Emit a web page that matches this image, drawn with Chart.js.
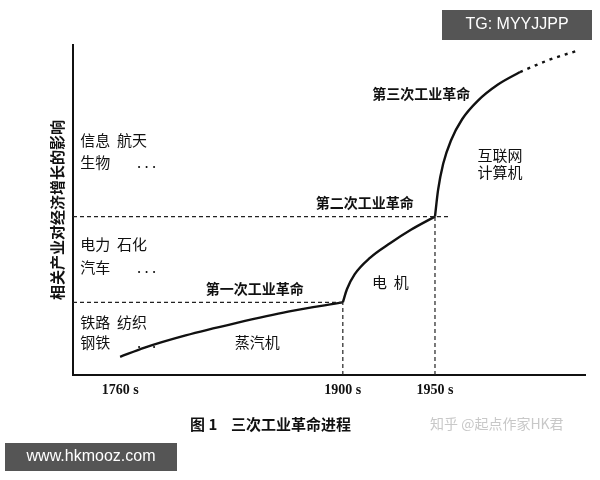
<!DOCTYPE html>
<html><head><meta charset="utf-8">
<script src="https://cdn.jsdelivr.net/npm/chart.js@4/dist/chart.umd.min.js"></script>
<style>html,body{margin:0;background:#fff}#wrap{width:600px;height:480px}</style>
</head><body><div id="wrap"><canvas id="c"></canvas></div>
<script>
// 阶段曲线（横轴为示意位置，纵轴为影响程度）
const phase1 = [[9.2,5.5],[14,8.3],[22,12],[32,15.8],[42,19.2],[52.7,22]];
const phase2 = [[52.7,22],[53.5,26],[55,30.5],[58,35.5],[62,40],[66,44],[70.7,48]];
const phase3 = [[70.7,48],[71.3,56],[72.3,64],[73.8,71],[76,77.5],[79,83],[83,88],[87.3,91.8]];
const future = [[87.3,91.8],[93,95.5],[99,98.5]];
const xTicks = [[9.2,'1760 s'],[52.7,'1900 s'],[70.7,'1950 s']];
const revLabels = [[35.5,24,'第一次工业革命'],[57,50,'第二次工业革命'],[68,83,'第三次工业革命']];
const sideText = [[1.4,16,'铁路  纺织'],[1.4,10,'钢铁'],[1.4,39.5,'电力  石化'],[1.4,32.5,'汽车'],[1.4,71,'信息  航天'],[1.4,64.5,'生物']];
const dots = [[12.5,10],[12.5,32.5],[12.5,64.5]];
const midText = [[36,10,'蒸汽机'],[62,28,'电  机'],[83.4,66.7,'互联网'],[83.4,61.5,'计算机']];

const pts = a => a.map(([x,y]) => ({x,y}));
const dash = (a,b) => ({data:pts([a,b]),borderColor:'#222',borderWidth:1.2,borderDash:[4,3],pointRadius:0});
const solid = d => ({data:pts(d),borderColor:'#111',borderWidth:2.4,pointRadius:0,cubicInterpolationMode:'monotone'});

const textPlugin = {
  id:'text',
  afterDraw(chart){
    const {ctx, scales:{x,y}} = chart;
    ctx.save();
    ctx.fillStyle = '#111';
    ctx.textAlign = 'center'; ctx.textBaseline = 'top';
    ctx.font = 'bold 14px "Liberation Serif", serif';
    xTicks.forEach(([v,t]) => ctx.fillText(t, x.getPixelForValue(v), y.bottom+8));
    ctx.textBaseline = 'bottom';
    ctx.font = 'bold 14px "Noto Sans CJK SC"';
    revLabels.forEach(([a,b,t]) => ctx.fillText(t, x.getPixelForValue(a), y.getPixelForValue(b)));
    ctx.textAlign = 'left'; ctx.textBaseline = 'middle';
    ctx.font = '15px "Noto Sans CJK SC"';
    sideText.forEach(([a,b,t]) => ctx.fillText(t, x.getPixelForValue(a), y.getPixelForValue(b)));
    dots.forEach(([a,b]) => ctx.fillText('. . .', x.getPixelForValue(a), y.getPixelForValue(b)));
    ctx.textAlign = 'center';
    midText.forEach(([a,b,t]) => ctx.fillText(t, x.getPixelForValue(a), y.getPixelForValue(b)));
    // 纵轴标题
    ctx.save();
    ctx.translate(57, (y.top+y.bottom)/2);
    ctx.rotate(-Math.PI/2);
    ctx.font = 'bold 15px "Noto Sans CJK SC"';
    ctx.fillText('相关产业对经济增长的影响', 0, 0);
    ctx.restore();
    ctx.font = 'bold 15px "Noto Sans CJK SC"';
    ctx.textAlign = 'left';
    ctx.fillText('图 1    三次工业革命进程', 190, 424);
    ctx.fillStyle = '#c8c8c8'; ctx.font = '14px "Noto Sans CJK SC"';
    ctx.fillText('知乎 @起点作家HK君', 430, 424);
    // 水印框
    ctx.fillStyle = '#555'; ctx.fillRect(442,10,150,30);
    ctx.fillRect(5,443,172,28);
    ctx.fillStyle = '#fff'; ctx.font = '16px "Liberation Sans"';
    ctx.textAlign = 'center';
    ctx.fillText('TG: MYYJJPP', 517, 25);
    ctx.fillText('www.hkmooz.com', 91, 457);
    ctx.restore();
  }
};

new Chart(document.getElementById('c'), {
  type:'line',
  data:{datasets:[
    dash([0,22],[52.7,22]), dash([52.7,0],[52.7,22]),
    dash([0,48],[73.6,48]), dash([70.7,0],[70.7,48]),
    solid(phase1), solid(phase2), solid(phase3),
    {data:pts(future),borderColor:'#111',borderWidth:2.4,borderDash:[3,5],pointRadius:0,cubicInterpolationMode:'monotone'}
  ]},
  options:{
    responsive:true, maintainAspectRatio:false, animation:false,
    layout:{padding:{left:73,right:15,top:45,bottom:105}},
    plugins:{legend:{display:false},tooltip:{enabled:false}},
    scales:{
      x:{type:'linear',min:0,max:100,ticks:{display:false},grid:{display:false,drawTicks:false},border:{color:'#111',width:2}},
      y:{min:0,max:100,ticks:{display:false},grid:{display:false,drawTicks:false},border:{color:'#111',width:2}}
    }
  },
  plugins:[textPlugin]
});
</script></body></html>
